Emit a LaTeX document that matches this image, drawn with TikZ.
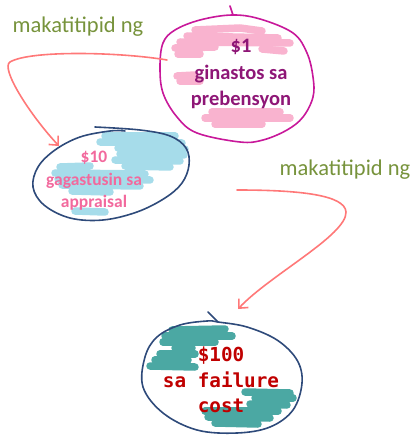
\documentclass[tikz,border=0pt]{standalone}
\usepackage{fontspec}
\setmainfont{Carlito}
\newfontfamily\monob{DejaVu Sans Mono}
\usetikzlibrary{arrows.meta}
\definecolor{bubmag}{HTML}{C8189A}
\definecolor{bubnavy}{HTML}{2E4A7A}
\definecolor{txtplum}{HTML}{8E1676}
\definecolor{txtpink}{HTML}{F2699D}
\definecolor{txtred}{HTML}{C00000}
\definecolor{lblgreen}{HTML}{77933C}
\definecolor{arrsalmon}{HTML}{FF7878}
\definecolor{scpink}{HTML}{F9B3CF}
\definecolor{scblue}{HTML}{A6DCEA}
\definecolor{scteal}{HTML}{4BA8A3}
\tikzset{
  outline/.style={line width=1.6pt, line cap=round, line join=round},
  scribble/.style={line width=7.5pt, line cap=round, line join=round},
  lbl/.style={text=lblgreen, font=\fontsize{22.5}{26}\selectfont, inner sep=0pt},
  flow/.style={arrsalmon, line width=1.6pt, line cap=round,
    -{Straight Barb[length=7pt,width=13pt,line width=1.6pt]}},
}
\begin{document}
\begin{tikzpicture}[x=1pt,y=-1pt]
\useasboundingbox (0,0) rectangle (414,435);

% --- crayon fills behind the bubble texts ---
\begin{scope}[scribble, scpink]
  \draw (195,30) -- (240,28) -- (262,31);
  \draw (187,36) -- (278,38);
  \draw (180,42) -- (290,43);
  \draw (175,48) -- (215,47);
  \draw (262,49) -- (284,51);
  \draw (178,54) -- (200,54);
  \draw (177,76) -- (195,75);
  \draw (180,81) -- (200,81);
  \draw (212,112) -- (280,112);
  \draw (205,118) -- (290,118);
  \draw (215,124) -- (262,124);
\end{scope}
\begin{scope}[scribble, scblue]
  \draw (105,136) -- (175,136);
  \draw (100,142) -- (182,143);
  \draw (118,148) -- (185,149);
  \draw (120,154) -- (184,155);
  \draw (115,160) -- (180,161);
  \draw (125,166) -- (170,167);
  \draw (60,167) -- (90,166);
  \draw (55,173) -- (145,174);
  \draw (58,179) -- (150,180);
  \draw (62,185) -- (140,186);
  \draw (72,191) -- (110,192);
  \draw (75,211) -- (105,212);
\end{scope}
\begin{scope}[scribble, scteal]
  \draw (172,330) -- (225,329);
  \draw (165,336) -- (232,336);
  \draw (163,342) -- (215,342);
  \draw (175,348) -- (192,348);
  \draw (160,354) -- (195,354);
  \draw (155,360) -- (188,360);
  \draw (150,366) -- (195,367);
  \draw (245,392) -- (290,393);
  \draw (255,398) -- (293,398);
  \draw (250,404) -- (287,405);
  \draw (205,411) -- (278,411);
  \draw (208,417) -- (270,418);
  \draw (215,423) -- (258,424);
\end{scope}

% --- hand-drawn bubble outlines ---
\draw[outline, bubmag] plot[smooth cycle, tension=0.6] coordinates {
  (232,15) (260,19) (293,33) (307,53) (313,77) (313,97) (303,117)
  (287,130) (263,140) (240,142) (197,133) (177,117) (163,93) (160,67)
  (163,43) (175,30) (200,20)};
\draw[outline, bubmag] (230,6) -- (233,15);

\draw[outline, bubnavy] plot[smooth, tension=0.6] coordinates {
  (95,127) (140,130) (170,136) (186,148) (189,165) (182,183) (165,198)
  (137,212) (103,220) (70,218) (44,205) (33,187) (38,167) (55,150)
  (80,137) (110,131) (125,131)};

\draw[outline, bubnavy] plot[smooth cycle, tension=0.6] coordinates {
  (218,322) (247,327) (277,340) (297,360) (302,383) (293,410) (270,427)
  (237,433) (197,430) (163,413) (143,387) (145,357) (157,337) (180,325)
  (207,321)};
\draw[outline, bubnavy] (208,312) -- (218,322);

% --- bubble texts ---
\node[text=txtplum, align=center, inner sep=0pt,
  font=\fontsize{20.5}{26.5}\selectfont\bfseries] (pv) at (241,74)
  {\$1\\ginastos sa\\prebensyon};
\node[text=txtpink, align=center, inner sep=0pt,
  font=\fontsize{17.5}{22.5}\selectfont\bfseries] (ap) at (94,181)
  {\$10\\gagastusin sa\\appraisal};
\node[text=txtred, align=center, inner sep=0pt,
  font=\monob\fontsize{19.3}{25.5}\selectfont\bfseries] (fc) at (221,380)
  {\$100\\sa failure\\cost};

% --- arrow labels ---
\node[lbl] (l1) at (78,27) {makatitipid ng};
\node[lbl] (l2) at (345,170) {makatitipid ng};

% --- connectors ---
\coordinate (a1s) at (167,60);
\coordinate (a1e) at (59,146);
\coordinate (a2s) at (237,190);
\coordinate (a2e) at (238,309);
\draw[flow] (a1s) .. controls (120,52) and (30,50) .. (10,62)
  .. controls (0,68) and (30,115) .. (a1e);
\draw[flow] (a2s) .. controls (300,190) and (345,195) .. (346,212)
  .. controls (347,235) and (270,275) .. (a2e);
\end{tikzpicture}
\end{document}
